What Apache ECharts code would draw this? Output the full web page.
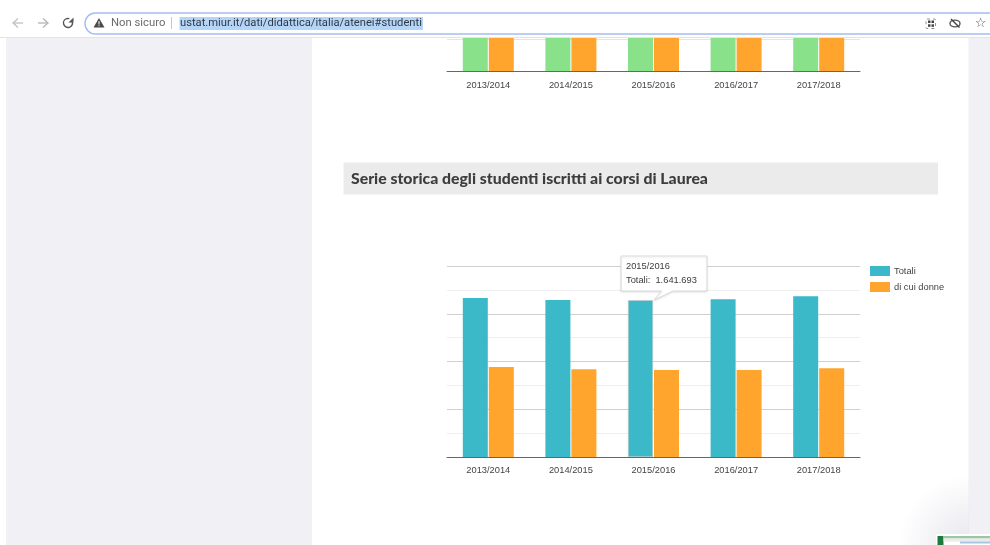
<!DOCTYPE html>
<html><head><meta charset="utf-8">
<style>html,body{margin:0;padding:0;background:#fff;overflow:hidden}#c{width:990px;height:545px}</style>
<script src="https://cdn.jsdelivr.net/npm/echarts@6/dist/echarts.min.js"></script>
</head><body><div id="c"></div>
<script>
const categories = ['2013/2014','2014/2015','2015/2016','2016/2017','2017/2018'];
const totali = [1665000,1644000,1641693,1653000,1683000];
const donne = [942000,918000,911000,911000,929000];
// upper chart is scrolled out of view: only the bottom of each bar can be seen
const upperVerde = [300000,298000,296000,294000,297000];
const upperArancio = [270000,268000,266000,265000,268000];
const legendNames = ['Totali','di cui donne'];
const pageTitle = 'Serie storica degli studenti iscritti ai corsi di Laurea';
const hoverIndex = 2;

const FONT = '"Liberation Sans", Arial, sans-serif';
const TEAL='#3bb9c8', ORANGE='#ffa42c', GREEN='#89e28a';
const fmt = v => String(v).replace(/\B(?=(\d{3})+(?!\d))/g,'.');

const bg = [
  {type:'rect',z:-10,shape:{x:6,y:38,width:306,height:507},style:{fill:'#f0f0f5'}},
  {type:'rect',z:-10,shape:{x:968.5,y:38,width:22,height:507},style:{fill:'#f0f0f5'}},
  {type:'rect',z:-9,shape:{x:343.5,y:162.5,width:594.5,height:32},style:{fill:'#ebebeb'}},
  {type:'text',z:-8,style:{x:351,y:179,text:pageTitle,fill:'#3d3d3d',font:'900 15.8px Lato, sans-serif',verticalAlign:'middle'}}
];
const chrome = [
  {type:'rect',z:100,shape:{x:0,y:0,width:990,height:37},style:{fill:'#ffffff'}},
  {type:'rect',z:100,shape:{x:0,y:37,width:990,height:1},style:{fill:'#e4e4e6'}},
  // nav icons
  {type:'polyline',z:101,shape:{points:[[23,23],[13,23]]},style:{stroke:'#c0c0c0',lineWidth:1.3,fill:null}},
  {type:'polyline',z:101,shape:{points:[[18,18.5],[13,23],[18,27.5]]},style:{stroke:'#c0c0c0',lineWidth:1.3,fill:null}},
  {type:'polyline',z:101,shape:{points:[[38,23],[48,23]]},style:{stroke:'#b4b4b4',lineWidth:1.3,fill:null}},
  {type:'polyline',z:101,shape:{points:[[43,18.5],[48,23],[43,27.5]]},style:{stroke:'#b4b4b4',lineWidth:1.3,fill:null}},
  {type:'arc',z:101,shape:{cx:68,cy:23,r:4.5,startAngle:-0.3,endAngle:5.0,clockwise:true},style:{stroke:'#555',lineWidth:1.4,fill:null}},
  {type:'polygon',z:101,shape:{points:[[73.5,17.5],[73.5,22.5],[68.5,22.5]]},style:{fill:'#555'}},
  // omnibox
  {type:'rect',z:101,shape:{x:85,y:13,width:919,height:21,r:10.5},style:{fill:'#fff',stroke:'#a3bdf2',lineWidth:1.4}},
  {type:'polygon',z:102,shape:{points:[[99,18],[104.5,27.5],[93.5,27.5]]},style:{fill:'#4a4a4a'}},
  {type:'rect',z:103,shape:{x:98.5,y:21,width:1,height:3.4},style:{fill:'#fff'}},
  {type:'rect',z:103,shape:{x:98.5,y:25.2,width:1,height:1},style:{fill:'#fff'}},
  {type:'text',z:102,style:{x:111,y:23.5,text:'Non sicuro',fill:'#6b6b6b',font:'11.3px Roboto, sans-serif',verticalAlign:'middle'}},
  {type:'rect',z:102,shape:{x:171,y:17,width:1,height:12},style:{fill:'#c8c8c8'}},
  {type:'rect',z:102,shape:{x:179.5,y:17,width:243.5,height:13},style:{fill:'#b5d5f8'}},
  {type:'text',z:103,style:{x:180,y:23.5,text:'ustat.miur.it/dati/didattica/italia/atenei#studenti',fill:'#2f3a45',font:'11.2px Roboto, sans-serif',verticalAlign:'middle'}},
  // right icons
  {type:'rect',z:102,shape:{x:926,y:19,width:9.5,height:9.5,r:1},style:{fill:'none',stroke:'#777',lineWidth:0.8,lineDash:[3,3]}},
  {type:'rect',z:102,shape:{x:928,y:20.5,width:2.5,height:2.5},style:{fill:'#444'}},
  {type:'rect',z:102,shape:{x:931.5,y:20.5,width:2.5,height:2.5},style:{fill:'#444'}},
  {type:'rect',z:102,shape:{x:928,y:24.3,width:2.5,height:2.5},style:{fill:'#444'}},
  {type:'rect',z:102,shape:{x:931.5,y:24.3,width:2.5,height:2.5},style:{fill:'#444'}},
  {type:'ellipse',z:102,shape:{cx:955,cy:23.5,rx:5,ry:3.4},style:{fill:'#fff',stroke:'#555',lineWidth:1.4}},
  {type:'line',z:103,shape:{x1:951,y1:19,x2:959.5,y2:27.5},style:{stroke:'#444',lineWidth:1.4}},
  {type:'text',z:102,style:{x:980.5,y:23.5,text:'☆',fill:'#555',font:'13px "DejaVu Sans"',align:'center',verticalAlign:'middle'}},
  // tooltip
  {type:'polygon',z:110,shape:{points:[[621,256],[707,256],[707,291],[673,291],[654,300],[661.5,291],[621,291]]},
    style:{fill:'#fff',stroke:'#dcdcdc',lineWidth:1,shadowBlur:2,shadowColor:'rgba(0,0,0,0.1)',shadowOffsetY:1}},
  {type:'text',z:111,style:{x:626,y:266.5,text:categories[hoverIndex],fill:'#3c3c3c',font:'9.3px '+FONT,verticalAlign:'middle'}},
  {type:'text',z:111,style:{x:626,y:280,text:legendNames[0]+':  '+fmt(totali[hoverIndex]),fill:'#3c3c3c',font:'9.3px '+FONT,verticalAlign:'middle'}},
  // corner shadow + thumbnail
  {type:'rect',z:100,shape:{x:899,y:475,width:70,height:70},style:{fill:{type:'radial',x:1,y:1,r:1,colorStops:[{offset:0,color:'rgba(228,228,235,0.9)'},{offset:1,color:'rgba(228,228,235,0)'}]}}},
  {type:'rect',z:101,shape:{x:936,y:534,width:60,height:20,r:2},style:{fill:'#fff'}},
  {type:'rect',z:102,shape:{x:937.5,y:536,width:6,height:9},style:{fill:'#1c7a3c'}},
  {type:'rect',z:102,shape:{x:943.5,y:536,width:47,height:2.5},style:{fill:'#9bc7a5'}},
  {type:'rect',z:102,shape:{x:943.5,y:538.5,width:47,height:3},style:{fill:'#e9ebea'}},
  {type:'rect',z:102,shape:{x:960,y:541.5,width:30,height:2},style:{fill:'#a8c4e4'}}
];

const chart = echarts.init(document.getElementById('c'),null,{renderer:'canvas'});
const catAxis = gi => ({type:'category',gridIndex:gi,data:categories,z:5,
  axisLine:{lineStyle:{color:'#666',width:1}},axisTick:{show:false},
  axisLabel:{color:'#444',fontSize:9.3,fontFamily:FONT,margin:9}});
chart.setOption({
  animation:false,
  textStyle:{fontFamily:FONT},
  grid:[
    {left:447,width:413,top:-120.5,height:192,outerBoundsMode:'none'},
    {left:447,width:413,top:266,height:191,outerBoundsMode:'none'}
  ],
  xAxis:[catAxis(0),catAxis(1)],
  yAxis:[
    {type:'value',gridIndex:0,min:0,max:600000,interval:100000,axisLabel:{show:false},axisLine:{show:false},axisTick:{show:false},
      splitLine:{lineStyle:{color:'#e4e4e4'}}},
    {type:'value',gridIndex:1,min:0,max:2000000,interval:500000,axisLabel:{show:false},axisLine:{show:false},axisTick:{show:false},
      splitLine:{lineStyle:{color:'#d0d0d0'}},
      minorTick:{show:false,splitNumber:2},minorSplitLine:{show:true,lineStyle:{color:'#eeeeee'}}}
  ],
  legend:{data:legendNames,left:870,top:266,orient:'vertical',itemWidth:20,itemHeight:10,itemGap:6,itemStyle:{borderWidth:0},
    icon:'rect',textStyle:{color:'#444',fontSize:9.3,fontFamily:FONT,padding:[0,0,0,-1]},padding:0,selectedMode:false},
  series:[
    {name:'Verde',type:'bar',xAxisIndex:0,yAxisIndex:0,barWidth:25,barGap:'4%',data:upperVerde,itemStyle:{color:GREEN}},
    {name:'Arancio',type:'bar',xAxisIndex:0,yAxisIndex:0,barWidth:25,barGap:'4%',data:upperArancio,itemStyle:{color:ORANGE}},
    {name:legendNames[0],type:'bar',xAxisIndex:1,yAxisIndex:1,barWidth:25,barGap:'4%',itemStyle:{color:TEAL},
      data:totali.map((v,i)=>i===hoverIndex?{value:v,itemStyle:{color:TEAL,borderColor:'#c4c4c4',borderWidth:0.6}}:v)},
    {name:legendNames[1],type:'bar',xAxisIndex:1,yAxisIndex:1,barWidth:25,barGap:'4%',data:donne,itemStyle:{color:ORANGE}}
  ],
  graphic:{elements:bg.concat(chrome)}
});
</script></body></html>
